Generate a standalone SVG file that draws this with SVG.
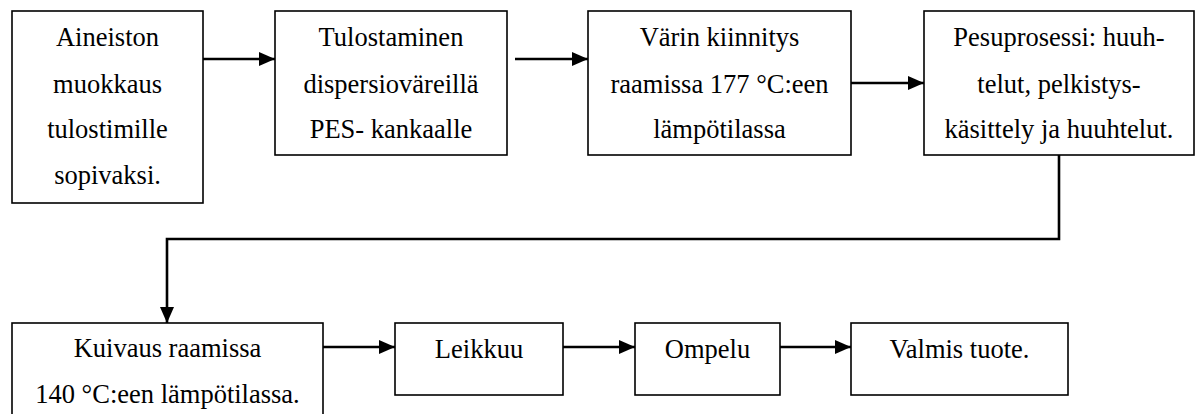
<svg xmlns="http://www.w3.org/2000/svg" width="1198" height="414" viewBox="0 0 1198 414">
<style>
.box{fill:#fff;stroke:#000;stroke-width:1.6}
.t{font-size:26.5px;fill:#000;text-anchor:middle}
.c{fill:none;stroke:#000;stroke-width:2.6}
</style>
<defs>
<marker id="ah" viewBox="0 0 16 14" refX="16" refY="7" markerWidth="16" markerHeight="14" markerUnits="userSpaceOnUse" orient="auto">
<path d="M0,0 L16,7 L0,14 Z" fill="#000"/>
</marker>
</defs>
<rect width="1198" height="414" fill="#fff"/>
<g font-family="'Liberation Serif', 'Times New Roman', Times, 'DejaVu Serif', serif">
<g id="n1"><rect class="box" x="12" y="11" width="191" height="192"/>
<text class="t" x="107.5" y="46">Aineiston</text><text class="t" x="107.5" y="93">muokkaus</text><text class="t" x="107.5" y="138">tulostimille</text><text class="t" x="107.5" y="184">sopivaksi.</text></g>
<g id="n2"><rect class="box" x="275" y="11" width="232" height="144"/>
<text class="t" x="391" y="46">Tulostaminen</text><text class="t" x="391" y="93">dispersioväreillä</text><text class="t" x="391" y="138">PES- kankaalle</text></g>
<g id="n3"><rect class="box" x="588" y="11" width="263" height="144"/>
<text class="t" x="719.5" y="46">Värin kiinnitys</text><text class="t" x="719.5" y="93">raamissa 177 °C:een</text><text class="t" x="719.5" y="138">lämpötilassa</text></g>
<g id="n4"><rect class="box" x="924" y="11" width="270" height="144"/>
<text class="t" x="1059" y="46">Pesuprosessi: huuh-</text><text class="t" x="1059" y="93">telut, pelkistys-</text><text class="t" x="1059" y="138">käsittely ja huuhtelut.</text></g>
<g id="n5"><rect class="box" x="12" y="323" width="311" height="100"/>
<text class="t" x="167.5" y="357">Kuivaus raamissa</text><text class="t" x="167.5" y="403">140 °C:een lämpötilassa.</text></g>
<g id="n6"><rect class="box" x="395" y="323" width="168" height="72"/>
<text class="t" x="479" y="358">Leikkuu</text></g>
<g id="n7"><rect class="box" x="635" y="323" width="145" height="72"/>
<text class="t" x="707.5" y="358">Ompelu</text></g>
<g id="n8"><rect class="box" x="851" y="323" width="217" height="72"/>
<text class="t" x="959.5" y="358">Valmis tuote.</text></g>
</g>
<g id="connectors">
<path class="c" d="M203,59 H275" marker-end="url(#ah)"/>
<path class="c" d="M515,59 H588" marker-end="url(#ah)"/>
<path class="c" d="M851,83 H924" marker-end="url(#ah)"/>
<path class="c" d="M1059,155 V239 H167 V323" marker-end="url(#ah)"/>
<path class="c" d="M323,347 H395" marker-end="url(#ah)"/>
<path class="c" d="M563,347 H635" marker-end="url(#ah)"/>
<path class="c" d="M780,347 H851" marker-end="url(#ah)"/>
</g>
</svg>
